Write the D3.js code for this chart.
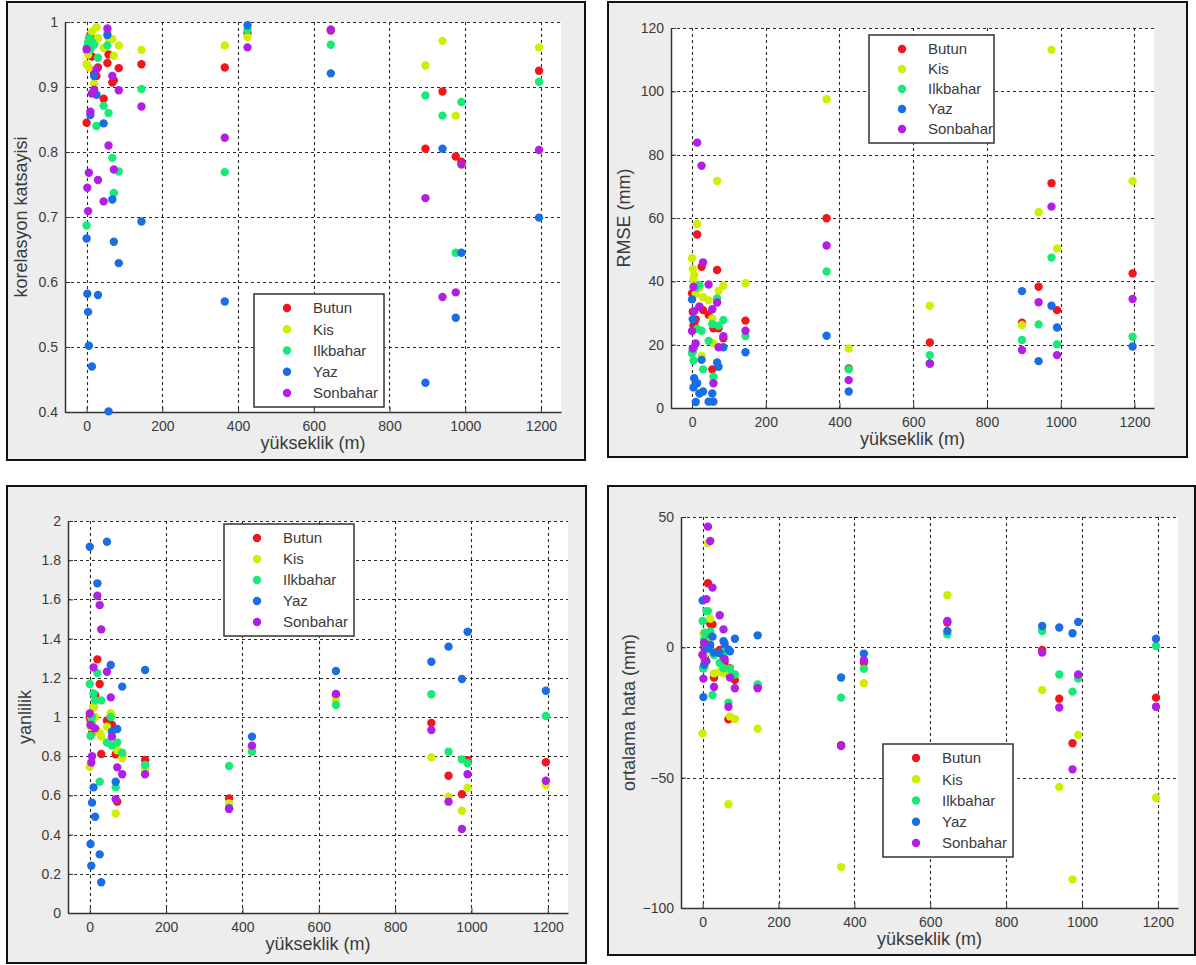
<!DOCTYPE html>
<html>
<head>
<meta charset="utf-8">
<script src="https://cdn.jsdelivr.net/npm/d3@7"></script>
<style>
  html, body { margin: 0; padding: 0; background: #ffffff; }
  svg { display: block; font-family: "Liberation Sans", Arial, sans-serif; }
</style>
</head>
<body>
<svg id="chart" width="1196" height="965"></svg>
<script>
// Station elevations (m), shared by every panel and season
const elevation = [0, 2, 4, 6, 10, 14, 20, 26, 30, 45, 55, 58, 68, 72, 85,
                   145, 365, 425, 645, 895, 940, 975, 990, 1195];

const seriesNames = ["Butun", "Kis", "Ilkbahar", "Yaz", "Sonbahar"];
const seriesColors = ["#f0161c", "#d2ee00", "#18ea78", "#196ee6", "#b31ee6"];

const xTicks = [0, 200, 400, 600, 800, 1000, 1200];
const xLabel = "yükseklik (m)";

// Correlation coefficient
const korButun = [0.845, 0.955, 0.96, 0.95, 0.98, 0.947, 0.92, 0.917, 0.93, 0.882, 0.937, 0.95, 0.907, 0.91, 0.929,
                  0.935, 0.930, 0.983, 0.987, 0.805, 0.893, 0.793, 0.785, 0.925];
const korKis = [0.935, 0.96, 0.95, 0.93, 0.97, 0.985, 0.905, 0.992, 0.975, 0.96, 0.985, 0.975, 0.974, 0.948, 0.964,
                0.957, 0.964, 0.977, 0.989, 0.933, 0.971, 0.856, 0.780, 0.961];
const korIlkbahar = [0.687, 0.962, 0.968, 0.975, 0.958, 0.97, 0.965, 0.84, 0.945, 0.871, 0.964, 0.860, 0.791, 0.737, 0.770,
                     0.897, 0.769, 0.988, 0.965, 0.887, 0.856, 0.645, 0.877, 0.908];
const korYaz = [0.667, 0.582, 0.554, 0.502, 0.857, 0.470, 0.917, 0.888, 0.580, 0.844, 0.98, 0.401, 0.727, 0.662, 0.629,
                0.693, 0.570, 0.995, 0.921, 0.445, 0.805, 0.545, 0.645, 0.699];
const korSonbahar = [0.958, 0.745, 0.709, 0.768, 0.862, 0.890, 0.896, 0.927, 0.757, 0.724, 0.99, 0.810, 0.917, 0.773, 0.895,
                     0.870, 0.822, 0.961, 0.988, 0.729, 0.577, 0.584, 0.781, 0.803];
const korTicks = [0.4, 0.5, 0.6, 0.7, 0.8, 0.9, 1];

// RMSE (mm)
const rmseButun = [36.2, 30.4, 26, 27, 28, 54.8, 32, 44.6, 30.9, 29.4, 12.2, 25.2, 43.6, 25.2, 22,
                   27.6, 59.9, 12.5, 20.7, 26.9, 38.3, 71.0, 30.9, 42.5];
const rmseKis = [47.3, 43.9, 40.5, 42, 36, 58.1, 38, 16.4, 35, 34, 28.3, 20.4, 71.7, 37, 38.6,
                 39.4, 97.5, 18.8, 32.3, 26.2, 61.8, 113.1, 50.4, 71.7];
const rmseIlkbahar = [17.3, 17.8, 15.0, 19, 38, 25, 38.8, 24.4, 12.2, 21.2, 26.5, 9.9, 34.6, 26, 27.8,
                      22.7, 43.1, 12.2, 16.7, 21.5, 26.4, 47.5, 20.1, 22.5];
const rmseYaz = [34.3, 28, 6.5, 9.4, 1.9, 7.8, 4.6, 15.2, 5.2, 2.0, 4.6, 2.0, 14.4, 13, 19.2,
                 17.6, 22.8, 5.2, 14.0, 36.9, 14.8, 32.3, 25.4, 19.4];
const rmseSonbahar = [24.3, 18.8, 38.3, 30.6, 20.4, 83.8, 32, 76.5, 46, 39.0, 31.2, 7.8, 33.3, 19.2, 22.7,
                      24.4, 51.3, 8.8, 14.1, 18.3, 33.4, 63.6, 16.7, 34.4];
const rmseTicks = [0, 20, 40, 60, 80, 100, 120];

// Bias ratio
const yanButun = [1.0, 0.98, 0.95, 0.92, 1.05, 1.112, 1.294, 1.168, 0.811, 0.981, 1.0, 0.96, 0.81, 0.568, 0.80,
                  0.781, 0.585, 0.845, 1.115, 0.970, 0.700, 0.606, 0.78, 0.769];
const yanKis = [0.746, 0.95, 1.0, 0.97, 1.05, 1.0, 0.93, 0.920, 0.9, 0.95, 1.02, 1.002, 0.508, 0.83, 0.79,
                0.733, 0.559, 0.835, 1.087, 0.794, 0.593, 0.522, 0.639, 0.653];
const yanIlkbahar = [1.168, 0.903, 0.97, 1.0, 1.12, 1.085, 1.224, 0.670, 1.085, 0.87, 1.0, 0.855, 0.641, 0.87, 0.818,
                     0.755, 0.750, 0.823, 1.061, 1.116, 0.823, 0.784, 0.764, 1.005];
const yanYaz = [1.869, 0.352, 0.241, 0.563, 0.641, 0.491, 1.682, 0.299, 0.157, 1.894, 1.265, 0.925, 0.670, 0.939, 1.155,
                1.240, 0.535, 0.900, 1.235, 1.282, 1.359, 1.194, 1.435, 1.134];
const yanSonbahar = [1.018, 0.959, 0.768, 0.80, 1.253, 0.942, 1.619, 1.571, 1.447, 1.231, 1.100, 0.900, 0.580, 0.743, 0.708,
                     0.708, 0.531, 0.854, 1.117, 0.934, 0.568, 0.429, 0.708, 0.675];
const yanTicks = [0, 0.2, 0.4, 0.6, 0.8, 1, 1.2, 1.4, 1.6, 1.8, 2];

// Mean error (mm)
const hataButun = [-3, -8, 0, -4, 5, 24.6, 9, 8.8, -11.6, -1.0, -4.0, -5.6, -27.6, -8, -12.5,
                   -15.0, -37.5, -5.9, 9.5, -1.0, -19.7, -36.8, -11.0, -19.3];
const hataKis = [-33.0, 5.3, -3, -7, 2, 39.9, 11.0, -2, -10, -9.5, -10, -9, -60.2, -26.5, -27.5,
                 -31.2, -84.3, -13.8, 20.0, -16.4, -53.6, -89.0, -33.6, -57.7];
const hataIlkbahar = [10.1, -8, 3, 5.6, 13.9, 13.9, 6, -18.3, -3, -6.0, -8, -1.5, -21.2, -8.2, -10.4,
                      -14.2, -19.3, -8.2, 5.0, 6.3, -10.4, -17.0, -12.0, 0.5];
const hataYaz = [18.0, -19.1, -6.7, 0.5, -5.3, -0.5, 1.0, 4.1, -2.0, -2.2, 2.4, 1.5, -0.8, -1.5, 3.3,
                 4.6, -11.6, -2.4, 6.3, 8.2, 7.6, 5.4, 9.7, 3.3];
const hataSonbahar = [-2.7, -12.0, 1.8, -5, 18.5, 46.3, 40.8, 22.9, -15.2, 12.3, 6.9, -4.5, -22.8, -11.6, -15.7,
                      -15.7, -37.9, -4.9, 10.1, -2.0, -23.1, -46.8, -10.4, -22.8];
const hataTicks = [-100, -50, 0, 50];

// Panel layout
const panels = [
  { frame: [7, 2, 585, 460], plot: { l: 65, t: 22, r: 561, b: 412 },
    yDomain: [0.4, 1], yTicks: korTicks, yFmt: d => d === 1 ? "1" : d3.format(".1f")(d),
    yLabel: "korelasyon katsayisi", yLabelX: 27,
    legend: { x: 254, y: 294, w: 130, h: 113 },
    series: [korButun, korKis, korIlkbahar, korYaz, korSonbahar] },
  { frame: [608, 2, 1187, 457], plot: { l: 671, t: 28, r: 1154, b: 408 },
    yDomain: [0, 120], yTicks: rmseTicks, yFmt: d3.format("d"),
    yLabel: "RMSE (mm)", yLabelX: 630,
    legend: { x: 869, y: 35, w: 125, h: 108 },
    series: [rmseButun, rmseKis, rmseIlkbahar, rmseYaz, rmseSonbahar] },
  { frame: [7, 486, 586, 963], plot: { l: 68, t: 521, r: 568, b: 913 },
    yDomain: [0, 2], yTicks: yanTicks, yFmt: d => (d === 0 || d === 1 || d === 2) ? String(d) : d3.format(".1f")(d),
    yLabel: "yanlilik", yLabelX: 31,
    legend: { x: 224, y: 524, w: 130, h: 112 },
    series: [yanButun, yanKis, yanIlkbahar, yanYaz, yanSonbahar] },
  { frame: [608, 486, 1195, 955], plot: { l: 681, t: 517, r: 1178, b: 908 },
    yDomain: [-100, 50], yTicks: hataTicks, yFmt: d3.format("d"),
    yLabel: "ortalama hata (mm)", yLabelX: 635,
    legend: { x: 883, y: 744, w: 130, h: 113 },
    series: [hataButun, hataKis, hataIlkbahar, hataYaz, hataSonbahar] }
];

const svg = d3.select("#chart");
const textColor = "#3a3a3a";

panels.forEach(p => {
  const [fx0, fy0, fx1, fy1] = p.frame;
  const g = svg.append("g");

  // figure background and frame
  g.append("rect")
    .attr("x", fx0).attr("y", fy0)
    .attr("width", fx1 - fx0).attr("height", fy1 - fy0)
    .attr("fill", "#ededed").attr("stroke", "#111").attr("stroke-width", 2);

  const x = d3.scaleLinear().domain([-57, 1253]).range([p.plot.l, p.plot.r]);
  const y = d3.scaleLinear().domain(p.yDomain).range([p.plot.b, p.plot.t]);

  // plot area
  g.append("rect")
    .attr("x", p.plot.l).attr("y", p.plot.t)
    .attr("width", p.plot.r - p.plot.l).attr("height", p.plot.b - p.plot.t)
    .attr("fill", "#ffffff");

  // dotted grid
  const grid = g.append("g")
    .attr("stroke", "#2a2a2a").attr("stroke-width", 1.1)
    .attr("stroke-dasharray", "3,3").attr("fill", "none");
  grid.selectAll("line.gx").data(xTicks).join("line")
    .attr("x1", d => Math.round(x(d)) + 0.5).attr("x2", d => Math.round(x(d)) + 0.5)
    .attr("y1", p.plot.t).attr("y2", p.plot.b);
  grid.selectAll("line.gy").data(p.yTicks).join("line")
    .attr("y1", d => Math.round(y(d)) + 0.5).attr("y2", d => Math.round(y(d)) + 0.5)
    .attr("x1", p.plot.l).attr("x2", p.plot.r);

  // axes
  const xAxis = d3.axisBottom(x).tickValues(xTicks).tickFormat(d3.format("d"))
    .tickSizeInner(-5).tickSizeOuter(0).tickPadding(9);
  const yAxis = d3.axisLeft(y).tickValues(p.yTicks).tickFormat(p.yFmt)
    .tickSizeInner(-5).tickSizeOuter(0).tickPadding(7);

  const gx = g.append("g").attr("transform", `translate(0,${p.plot.b})`).call(xAxis);
  const gy = g.append("g").attr("transform", `translate(${p.plot.l},0)`).call(yAxis);
  [gx, gy].forEach(ax => {
    ax.select(".domain").attr("stroke", "#333").attr("stroke-width", 1.5);
    ax.selectAll(".tick line").attr("stroke", "#333").attr("stroke-width", 1);
    ax.selectAll(".tick text")
      .attr("fill", textColor)
      .style("font-size", "14px");
  });

  // axis titles
  g.append("text")
    .attr("x", (p.plot.l + p.plot.r) / 2)
    .attr("y", p.plot.b + 37)
    .attr("text-anchor", "middle")
    .attr("fill", textColor)
    .style("font-size", "18px")
    .text(xLabel);

  g.append("text")
    .attr("transform", `translate(${p.yLabelX},${(p.plot.t + p.plot.b) / 2}) rotate(-90)`)
    .attr("text-anchor", "middle")
    .attr("fill", textColor)
    .style("font-size", "18px")
    .text(p.yLabel);

  // points, one season after another
  p.series.forEach((vals, si) => {
    g.append("g").selectAll("circle")
      .data(vals.map((v, i) => ({ e: elevation[i], v })))
      .join("circle")
      .attr("cx", d => x(d.e))
      .attr("cy", d => y(d.v))
      .attr("r", 4.2)
      .attr("fill", seriesColors[si]);
  });

  // legend
  const L = p.legend;
  const lg = g.append("g");
  lg.append("rect")
    .attr("x", L.x).attr("y", L.y).attr("width", L.w).attr("height", L.h)
    .attr("fill", "#ffffff").attr("stroke", "#333").attr("stroke-width", 1.5);
  const rowH = (L.h - 28) / 4;
  seriesNames.forEach((name, i) => {
    const cy = L.y + 14 + i * rowH;
    lg.append("circle")
      .attr("cx", L.x + 33).attr("cy", cy).attr("r", 4.2)
      .attr("fill", seriesColors[i]);
    lg.append("text")
      .attr("x", L.x + 59).attr("y", cy)
      .attr("dy", "0.36em")
      .attr("fill", textColor)
      .style("font-size", "15px")
      .text(name);
  });
});
</script>
</body>
</html>
